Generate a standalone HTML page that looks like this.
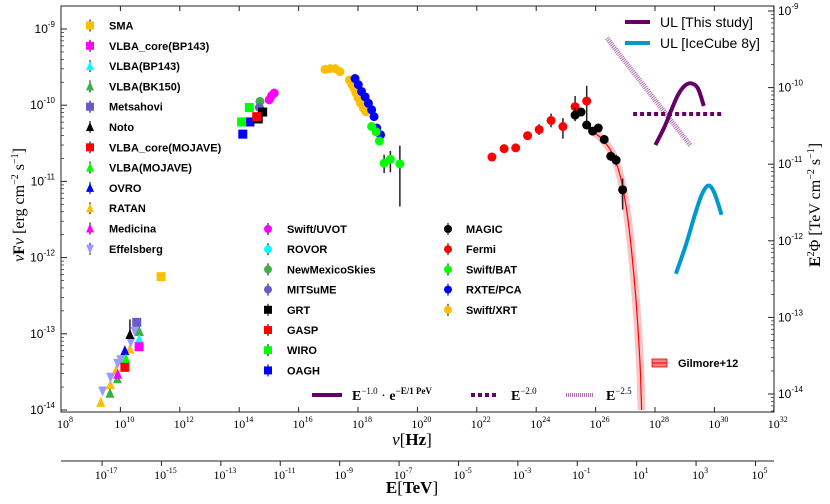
<!DOCTYPE html>
<html><head><meta charset="utf-8"><style>
body{margin:0;background:#fff;}
svg{display:block;font-family:"Liberation Sans",sans-serif;}
.lg{font-weight:bold;font-size:11px;}
.tk{font-size:12px;}
.sr{font-family:"Liberation Serif",serif;}
</style></head><body>
<svg id="c" width="830" height="504" viewBox="0 0 830 504" xmlns="http://www.w3.org/2000/svg"></svg>
<script>
// ---- data (log10 nu [Hz], log10 nuFnu [erg cm-2 s-1]) ----
const ratanNu=[9.34,9.66,9.85,10.32];
const ratanF=[-13.90,-13.67,-13.48,-13.20];
const effNu=[9.40,9.67,9.91,10.01,10.35,10.49];
const effF=[-13.75,-13.57,-13.39,-13.34,-13.11,-12.97];
const bk150Nu=[9.65,9.90,10.64];
const bk150F=[-13.78,-13.59,-12.97];
const ovroNu=[10.15];const ovroF=[-13.22];
const mojCoreNu=[10.15];const mojCoreF=[-13.44];
const medNu=[9.91];const medF=[-13.53];
const notoNu=[10.32];const notoF=[-13.01];
const bpNu=[10.63];const bpF=[-13.07];
const bpCoreNu=[10.63];const bpCoreF=[-13.17];
const metsNu=[10.55];const metsF=[-12.85];
const mojNu=[10.19];const mojF=[-13.33];
const smaNu=[11.37];const smaF=[-12.25];
const oaghNu=[14.12,14.20,14.36];const oaghF=[-10.38,-10.22,-10.22];
const wiroNu=[14.34,14.08];const wiroF=[-10.03,-10.22];
const nmsNu=[14.70];const nmsF=[-9.95];
const mitNu=[14.68];const mitF=[-10.03];
const grtNu=[14.79,14.64];const grtF=[-10.09,-10.18];
const gaspNu=[14.59];const gaspF=[-10.15];
const uvotNu=[15.01,15.09,15.18];const uvotF=[-9.93,-9.875,-9.84];
const xrtNu=[16.89,17.06,17.23,17.39,17.71,17.79,17.87,17.93,18.01,18.09,18.18,18.27];
const xrtF=[-9.53,-9.52,-9.52,-9.56,-9.67,-9.73,-9.78,-9.84,-9.91,-9.975,-10.04,-10.085];
const rxteNu=[17.90,18.01,18.12,18.24,18.35,18.46,18.54,18.63,18.76];
const rxteF=[-9.65,-9.73,-9.82,-9.89,-9.975,-10.06,-10.15,-10.30,-10.39];
const batNu=[18.46,18.61,18.72,18.88,19.09,19.41];
const batF=[-10.28,-10.35,-10.47,-10.76,-10.71,-10.77];
const batErrUp=[0,0,0,0.11,0.11,0.24];
const batErrDn=[0,0,0,0.13,0.17,0.56];
const fermiNu=[22.51,22.92,23.31,23.71,24.10,24.50,24.90,25.31,25.70];
const fermiF=[-10.68,-10.57,-10.56,-10.40,-10.32,-10.20,-10.28,-10.02,-9.945];
const fermiErrUp=[0.03,0,0,0,0.07,0.09,0.11,0.14,0.20];
const fermiErrDn=[0.03,0,0,0,0.07,0.09,0.16,0.11,0.31];
const magicNu=[25.31,25.51,25.70,25.90,26.09,26.29,26.51,26.69,26.91];
const magicF=[-10.13,-10.09,-10.26,-10.34,-10.30,-10.45,-10.67,-10.72,-11.11];
const magicErrUp=[0.1,0,0,0,0,0.06,0.06,0.07,0.15];
const magicErrDn=[0.08,0,0,0,0,0.06,0.06,0.07,0.26];
const fitNu=[25.98,26.28,26.59,26.82,27.02,27.19,27.36,27.49,27.55];
const fitF=[-10.365,-10.47,-10.654,-10.916,-11.31,-11.835,-12.556,-13.344,-14.0];
// neutrino (log10 E [TeV], log10 E^2 Phi [TeV cm-2 s-1])
const ulE=[1.63,1.94,2.17,2.39,2.61,2.83,3.06,3.26];
const ulR=[-10.749,-10.51,-10.29,-10.097,-9.979,-9.944,-10.009,-10.24];
const icE=[2.32,2.66,2.96,3.19,3.40,3.60,3.86];
const icR=[-12.43,-12.05,-11.66,-11.40,-11.28,-11.36,-11.66];
const e2E=[0.88,3.86];const e2R=[-10.345,-10.345];
const e25E=[0.0,2.82];const e25R=[-9.356,-10.76];
const xTicks=[8,10,12,14,16,18,20,22,24,26,28,30,32];
const eTicks=[-17,-15,-13,-11,-9,-7,-5,-3,-1,1,3,5];
const yTicks=[-9,-10,-11,-12,-13,-14];
const ryTicks=[-9,-10,-11,-12,-13,-14];

// ---- axes ----
const L=61,R=774,T=6,B=412;
const X=v=>L+(v-8)*29.7;
const Y=v=>29+(-9-v)*76.2;
const XE=e=>X(e+26.383);
const YR=v=>11+(-9-v)*76.6;
const svg=document.getElementById('c');
const NS='http://www.w3.org/2000/svg';
function mk(tag,attrs,parent){const e=document.createElementNS(NS,tag);for(const k in attrs)e.setAttribute(k,attrs[k]);(parent||svg).appendChild(e);return e;}
function txt(x,y,html,cls,anchor,parent){const t=mk('text',{x:x,y:y,'class':cls||'','text-anchor':anchor||'start'},parent);t.innerHTML=html;return t;}

const frame=mk('rect',{x:L,y:T,width:R-L,height:B-T,fill:'none',stroke:'#222','stroke-width':1});



const xg=mk('g',{});


xTicks.forEach(t=>{const x=X(t);mk('line',{x1:x,x2:x,y1:B,y2:B-5,stroke:'#222'},xg);mk('line',{x1:x,x2:x,y1:T,y2:T+5,stroke:'#222'},xg);
 txt(x+4,B+16,'10<tspan dy="-6" font-size="8">'+t+'</tspan>','tk sr','middle',xg);});
const yg=mk('g',{});


for(let d=-9;d>=-14;d--){const y=Y(d);mk('line',{x1:L,x2:L+6,y1:y,y2:y,stroke:'#222'},yg);
 for(let m=2;m<10;m++){const ym=Y(d-1+Math.log10(m));if(ym<T||ym>B)continue;mk('line',{x1:L,x2:L+3,y1:ym,y2:ym,stroke:'#222','stroke-width':0.7},yg);}}
{const ym=Y(-9+Math.log10(2));mk('line',{x1:L,x2:L+3,y1:ym,y2:ym,stroke:'#222','stroke-width':0.7},yg);}
yTicks.forEach(t=>txt(L-6,Y(t)+4,'10<tspan dy="-6" font-size="8">'+t+'</tspan>','tk','end',yg));
const ryg=mk('g',{});


for(let d=-9;d>=-14;d--){const y=YR(d);mk('line',{x1:R,x2:R-6,y1:y,y2:y,stroke:'#222'},ryg);
 for(let m=2;m<10;m++){const ym=YR(d-1+Math.log10(m));if(ym<T||ym>B)continue;mk('line',{x1:R,x2:R-3,y1:ym,y2:ym,stroke:'#222','stroke-width':0.7},ryg);}}
ryTicks.forEach(t=>txt(R+4,YR(t)+4,'10<tspan dy="-6" font-size="8">'+t+'</tspan>','tk','start',ryg));

const eg=mk('g',{});


mk('line',{x1:L,x2:R,y1:461,y2:461,stroke:'#222'},eg);
eTicks.forEach(t=>{const x=XE(t);mk('line',{x1:x,x2:x,y1:461,y2:466,stroke:'#222'},eg);
 txt(x+4,479,'10<tspan dy="-6" font-size="8">'+t+'</tspan>','tk sr','middle',eg);});

const xl=txt(412,445,'<tspan font-style="italic">ν</tspan>[<tspan font-weight="bold">Hz</tspan>]','sr','middle');xl.setAttribute('font-size','17');


const el=txt(412,493,'<tspan font-weight="bold">E</tspan>[<tspan font-weight="bold">TeV</tspan>]','sr','middle');el.setAttribute('font-size','17');


const yl=txt(0,0,'<tspan font-style="italic">ν</tspan><tspan font-weight="bold">F</tspan><tspan font-style="italic">ν</tspan> [erg cm<tspan dy="-6" font-size="10">−2</tspan><tspan dy="6"> s</tspan><tspan dy="-6" font-size="10">−1</tspan><tspan dy="6">]</tspan>','sr','middle');
yl.setAttribute('font-size','16');yl.setAttribute('transform','translate(24,205) rotate(-90)');


const ryl=txt(0,0,'<tspan font-weight="bold">E</tspan><tspan dy="-6" font-size="10">2</tspan><tspan dy="6">Φ [TeV cm</tspan><tspan dy="-6" font-size="10">−2</tspan><tspan dy="6"> s</tspan><tspan dy="-6" font-size="10">−1</tspan><tspan dy="6">]</tspan>','sr','middle');
ryl.setAttribute('font-size','16');ryl.setAttribute('transform','translate(820,205) rotate(-90)');



// ---- smooth path helper ----
function pathD(px){let d='M'+px[0][0]+','+px[0][1];for(let i=0;i<px.length-1;i++){const p0=px[i-1]||px[i],p1=px[i],p2=px[i+1],p3=px[i+2]||p2;
 d+=' C'+(p1[0]+(p2[0]-p0[0])/6)+','+(p1[1]+(p2[1]-p0[1])/6)+' '+(p2[0]-(p3[0]-p1[0])/6)+','+(p2[1]-(p3[1]-p1[1])/6)+' '+p2[0]+','+p2[1];}return d;}

// fit band
const fitPx=fitNu.map((v,i)=>[X(v),Y(fitF[i])]);
const band=mk('path',{d:pathD(fitPx),fill:'none',stroke:'#f08080','stroke-width':8,'stroke-opacity':0.45});


const fit=mk('path',{d:pathD(fitPx),fill:'none',stroke:'#ff0000','stroke-width':1.2});



// markers
function marker(shape,x,y,color,parent,s){s=s||4.5;
 if(shape==='sq')return mk('rect',{x:x-s,y:y-s,width:2*s,height:2*s,fill:color},parent);
 if(shape==='tri')return mk('polygon',{points:(x)+','+(y-s-1)+' '+(x-s)+','+(y+s)+' '+(x+s)+','+(y+s),fill:color},parent);
 if(shape==='dtri')return mk('polygon',{points:(x)+','+(y+s+1)+' '+(x-s)+','+(y-s)+' '+(x+s)+','+(y-s),fill:color},parent);
 return mk('circle',{cx:x,cy:y,r:s,fill:color},parent);}
function series(name,nu,f,shape,color,up,dn){const g=mk('g',{});
 
 
 nu.forEach((v,i)=>{const x=X(v),y=Y(f[i]);
  if(up&&(up[i]||dn[i]))mk('line',{x1:x,x2:x,y1:Y(f[i]+up[i]),y2:Y(f[i]-dn[i]),stroke:'#222','stroke-width':1.5},g);
  marker(shape,x,y,color,g);});}
series('ratan-points',ratanNu,ratanF,'tri','#fbbf00');
series('effelsberg-points',effNu,effF,'dtri','#9999ff');
series('vlba-bk150-points',bk150Nu,bk150F,'tri','#3cb043');
series('ovro-points',ovroNu,ovroF,'tri','#0000ff');
series('medicina-points',medNu,medF,'tri','#ff00ff');
series('vlba-mojave-points',mojNu,mojF,'tri','#00ff00');
series('vlba-core-mojave-points',mojCoreNu,mojCoreF,'sq','#ff0000');
series('noto-points',notoNu,notoF,'tri','#000000',[0.2],[0]);
series('vlba-bp143-points',bpNu,bpF,'tri','#00ffff');
series('vlba-core-bp143-points',bpCoreNu,bpCoreF,'sq','#ff00ff');
series('metsahovi-points',metsNu,metsF,'sq','#6a5acd');
series('sma-points',smaNu,smaF,'sq','#fbbf00');
series('oagh-points',oaghNu,oaghF,'sq','#0000ff');
series('wiro-points',wiroNu,wiroF,'sq','#00ff00');
series('newmexicoskies-points',nmsNu,nmsF,'circ','#3cb043');
series('mitsume-points',mitNu,mitF,'circ','#6a5acd');
series('grt-points',grtNu,grtF,'sq','#000000');
series('gasp-points',gaspNu,gaspF,'sq','#ff0000');
series('swift-uvot-points',uvotNu,uvotF,'circ','#ff00ff');
series('swift-xrt-points',xrtNu,xrtF,'circ','#fbbf00');
series('rxte-pca-points',rxteNu,rxteF,'circ','#0000ff');
series('swift-bat-points',batNu,batF,'circ','#00ff00',batErrUp,batErrDn);
series('fermi-points',fermiNu,fermiF,'circ','#ff0000',fermiErrUp,fermiErrDn);
series('magic-points',magicNu,magicF,'circ','#000000',magicErrUp,magicErrDn);

// neutrino lines
function nline(name,E,Rv,attrs){const p=mk('path',Object.assign({d:pathD(E.map((e,i)=>[XE(e),YR(Rv[i])])),fill:'none'},attrs));
 
 }
nline('e-2.5-line',e25E,e25R,{stroke:'#b070b0','stroke-width':5,'stroke-dasharray':'1,1'});
nline('e-2.0-line',e2E,e2R,{stroke:'#660066','stroke-width':4,'stroke-dasharray':'4,3'});
nline('ul-this-study-curve',ulE,ulR,{stroke:'#660066','stroke-width':4});
nline('ul-icecube-curve',icE,icR,{stroke:'#0099cc','stroke-width':4});

// ---- legends ----
const leftLeg=[['SMA','sq','#fbbf00'],['VLBA_core(BP143)','sq','#ff00ff'],['VLBA(BP143)','tri','#00ffff'],['VLBA(BK150)','tri','#3cb043'],['Metsahovi','sq','#6a5acd'],['Noto','tri','#000000'],['VLBA_core(MOJAVE)','sq','#ff0000'],['VLBA(MOJAVE)','tri','#00ff00'],['OVRO','tri','#0000ff'],['RATAN','tri','#fbbf00'],['Medicina','tri','#ff00ff'],['Effelsberg','dtri','#9999ff']];
const midLeg=[['Swift/UVOT','circ','#ff00ff'],['ROVOR','circ','#00ffff'],['NewMexicoSkies','circ','#3cb043'],['MITSuME','circ','#6a5acd'],['GRT','sq','#000000'],['GASP','sq','#ff0000'],['WIRO','sq','#00ff00'],['OAGH','sq','#0000ff']];
const rightLeg=[['MAGIC','circ','#000000'],['Fermi','circ','#ff0000'],['Swift/BAT','circ','#00ff00'],['RXTE/PCA','circ','#0000ff'],['Swift/XRT','circ','#fbbf00']];
function legend(list,mx,tx,y0,dy,name){const g=mk('g',{});
 
 
 list.forEach((it,i)=>{const y=y0+i*dy;mk('line',{x1:mx,x2:mx,y1:y-6,y2:y+6,stroke:'#222','stroke-width':1.2},g);
  marker(it[1],mx,y,it[2],g,4);txt(tx,y+4,it[0],'lg','start',g);});}
legend(leftLeg,90,109,25.5,20.3,'legend-radio');
legend(midLeg,268,287,229,20.2,'legend-optical');
legend(rightLeg,448,466,229,20.2,'legend-xray-gamma');

const nl=mk('g',{});


mk('line',{x1:625,x2:650,y1:22,y2:22,stroke:'#660066','stroke-width':4},nl);
txt(660,27,'UL [This study]','','start',nl).setAttribute('font-size','14');
mk('line',{x1:625,x2:650,y1:43,y2:43,stroke:'#0099cc','stroke-width':4},nl);
txt(660,48,'UL [IceCube 8y]','','start',nl).setAttribute('font-size','14');

const bl=mk('g',{});


mk('line',{x1:312,x2:342,y1:395,y2:395,stroke:'#660066','stroke-width':4},bl);
txt(352,400,'<tspan font-weight="bold">E</tspan><tspan dy="-6" font-size="9">−1.0</tspan><tspan dy="6"> · </tspan><tspan font-weight="bold">e</tspan><tspan dy="-6" font-size="9" font-weight="bold">−E/1 PeV</tspan>','sr','start',bl).setAttribute('font-size','14');
mk('line',{x1:471,x2:499,y1:395,y2:395,stroke:'#660066','stroke-width':4,'stroke-dasharray':'4,3'},bl);
txt(511,400,'<tspan font-weight="bold">E</tspan><tspan dy="-6" font-size="9">−2.0</tspan>','sr','start',bl).setAttribute('font-size','14');
mk('line',{x1:566,x2:593,y1:395,y2:395,stroke:'#b070b0','stroke-width':4,'stroke-dasharray':'1,1'},bl);
txt(606,400,'<tspan font-weight="bold">E</tspan><tspan dy="-6" font-size="9">−2.5</tspan>','sr','start',bl).setAttribute('font-size','14');

const gl=mk('g',{});


mk('rect',{x:652,y:359,width:15,height:8,fill:'#f08080',stroke:'#e00','stroke-width':0.8},gl);
mk('line',{x1:652,x2:667,y1:363,y2:363,stroke:'#f00'},gl);
txt(678,367,'Gilmore+12','lg','start',gl);
</script>
</body></html>
